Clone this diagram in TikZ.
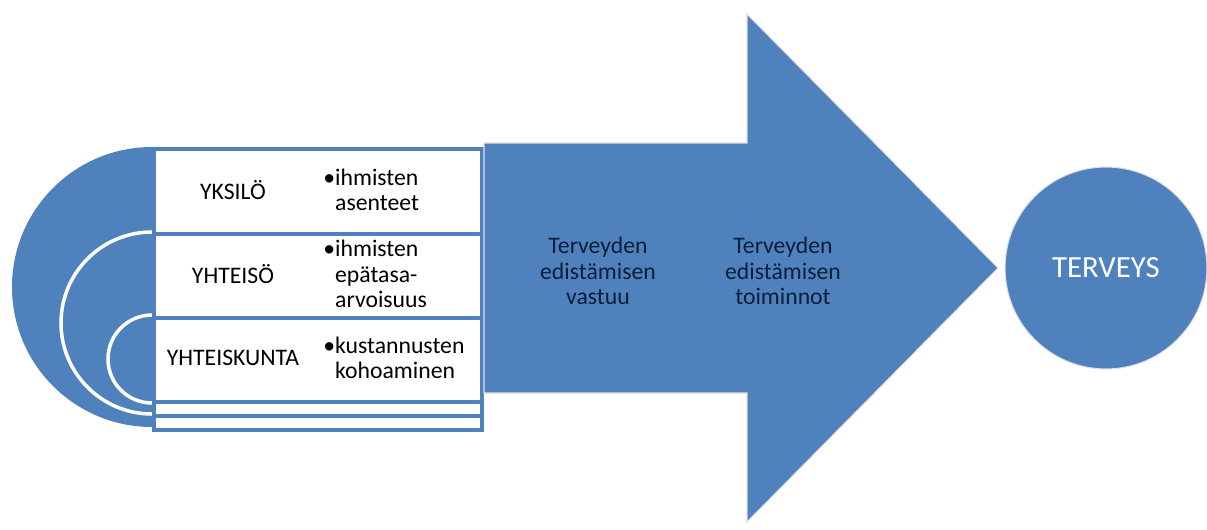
\documentclass[tikz,border=0pt]{standalone}
\usepackage{fontspec}
\setmainfont{Carlito}
\usepackage{xcolor}
\usetikzlibrary{positioning}
\definecolor{officeblue}{HTML}{4F81BD}
\definecolor{navytext}{HTML}{0B1E3A}

\begin{document}
\begin{tikzpicture}[
    x=0.02cm, y=0.02cm,
    half/.style={fill=officeblue, draw=white, line width=2pt},
    row/.style={draw=officeblue, line width=2.3pt, fill=white, minimum width=6.56cm, inner sep=0pt, anchor=north west},
    lbl/.style={font=\fontsize{13.5}{14.5}\selectfont, align=center},
    item/.style={font=\fontsize{13.5}{14.5}\selectfont, align=left, anchor=west, inner sep=0pt},
    arrtxt/.style={font=\fontsize{13.5}{14.5}\selectfont, text=navytext, align=center},
    bigarrow/.style={fill=officeblue, draw=black!12, line width=0.6pt}
  ]
    \useasboundingbox (0,0) rectangle (1207,529);

    %% ---- Left: nested half circles ----
    \fill[officeblue] (152,382) arc[start angle=90, end angle=270, radius=140] -- cycle;
    \path[half] (152,297) arc[start angle=90, end angle=270, radius=91];
    \path[half] (152,214) arc[start angle=90, end angle=270, radius=44];

    %% ---- Table of levels ----
    \node[row, minimum height=1.7cm]  (r1) at (152,382) {};
    \node[row, minimum height=1.68cm] (r2) at (152,297) {};
    \node[row, minimum height=1.68cm] (r3) at (152,213) {};
    \node[row, minimum height=0.28cm] (r4) at (152,129) {};
    \node[row, minimum height=0.28cm] (r5) at (152,115) {};

    \node[lbl] (yksilo)  at (233,339) {YKSILÖ};
    \node[lbl] (yhteiso) at (233,255) {YHTEISÖ};
    \node[lbl] (kunta)   at (233,171) {YHTEISKUNTA};

    \node[item] (asenteet) at (323,339) {\textbullet ihmisten\\\phantom{\textbullet}asenteet};
    \node[item] (epatasa)  at (323,255) {\textbullet ihmisten\\\phantom{\textbullet}epätasa-\\\phantom{\textbullet}arvoisuus};
    \node[item] (kulut)    at (323,171) {\textbullet kustannusten\\\phantom{\textbullet}kohoaminen};

    %% ---- Big arrow ----
    \path[bigarrow] (484,386) -- (747,386) -- (747,515) -- (998,261)
      -- (747,7) -- (747,136) -- (484,136) -- cycle;
    \node[arrtxt] (vastuu)    at (598,258) {Terveyden\\edistämisen\\vastuu};
    \node[arrtxt] (toiminnot) at (783,258) {Terveyden\\edistämisen\\toiminnot};

    %% ---- Goal ----
    \node[circle, fill=officeblue, draw=black!12, line width=0.6pt, minimum size=4.04cm,
          text=white, font=\fontsize{17.5}{20}\selectfont] (terveys) at (1106,261) {TERVEYS};
\end{tikzpicture}
\end{document}
